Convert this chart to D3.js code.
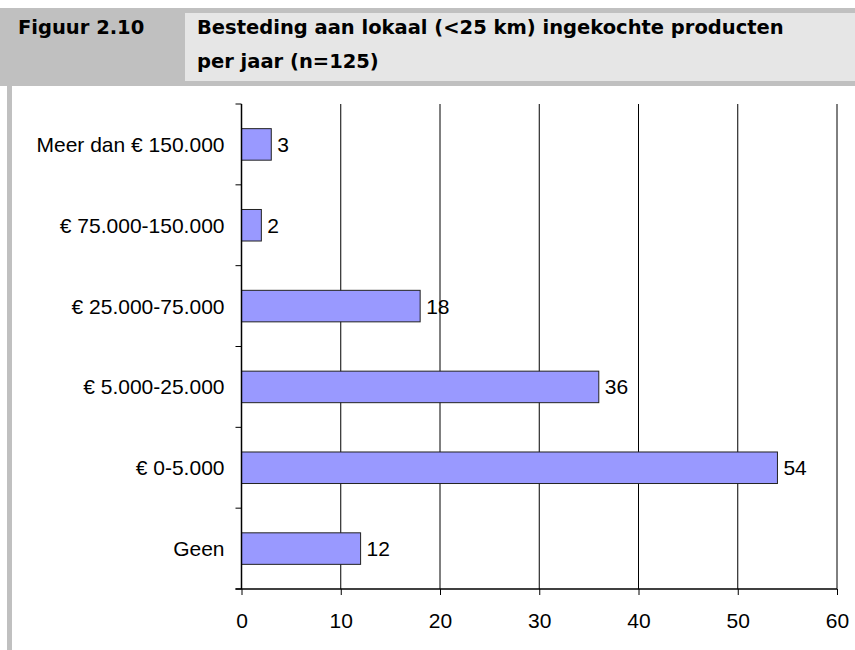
<!DOCTYPE html>
<html>
<head>
<meta charset="utf-8">
<script src="https://cdn.jsdelivr.net/npm/d3@7"></script>
<style>
  body { margin: 0; background: #fff; }
  svg { display: block; }
</style>
</head>
<body>
<div id="chart"></div>
<script>
// data, top to bottom as in the figure
var categories = ["Meer dan € 150.000", "€ 75.000-150.000", "€ 25.000-75.000", "€ 5.000-25.000", "€ 0-5.000", "Geen"];
var values = [3, 2, 18, 36, 54, 12];
var xTicks = [0, 10, 20, 30, 40, 50, 60];
var figLabel = "Figuur 2.10";
var titleLines = ["Besteding aan lokaal (<25 km) ingekochte producten", "per jaar (n=125)"];

var W = 855, H = 650;
var margin = {top: 104, right: 18, bottom: 61, left: 241.5},
    width = 837 - margin.left,
    height = 589 - margin.top;

var svg = d3.select("#chart").append("svg")
    .attr("width", W)
    .attr("height", H);

// header band
svg.append("rect").attr("x", 0).attr("y", 8).attr("width", W).attr("height", 78).attr("fill", "#c0c0c0");
svg.append("rect").attr("x", 185).attr("y", 13).attr("width", W - 185).attr("height", 68).attr("fill", "#e6e6e6");
// left border
svg.append("rect").attr("x", 7).attr("y", 86).attr("width", 5).attr("height", H - 86).attr("fill", "#c0c0c0");

var headFont = "'DejaVu Sans', sans-serif";
svg.append("text")
    .attr("x", 18).attr("y", 34)
    .style("font-family", headFont).style("font-weight", "bold").style("font-size", "19.5px")
    .text(figLabel);
svg.selectAll(".title").data(titleLines).enter().append("text")
    .attr("class", "title")
    .attr("x", 197)
    .attr("y", function(d, i) { return 34 + i * 34; })
    .style("font-family", headFont).style("font-weight", "bold").style("font-size", "19.5px")
    .text(function(d) { return d; });

var g = svg.append("g")
    .attr("transform", "translate(" + margin.left + "," + margin.top + ")");

// scales
var x = d3.scaleLinear().domain([0, 60]).range([0, width]);
var y = d3.scaleBand().domain(categories).range([0, height]).paddingInner(0.61).paddingOuter(0.305);
var yb = d3.scaleBand().domain(categories).range([0, height]);

var bodyFont = "'Liberation Sans', Arial, sans-serif";

// vertical gridlines
g.selectAll(".grid").data(xTicks.slice(1)).enter().append("line")
    .attr("x1", function(d) { return x(d); })
    .attr("x2", function(d) { return x(d); })
    .attr("y1", 0).attr("y2", height)
    .attr("stroke", "#000").attr("stroke-width", 1);

// bars
g.selectAll(".bar").data(values).enter().append("rect")
    .attr("x", x(0))
    .attr("y", function(d, i) { return y(categories[i]); })
    .attr("width", function(d) { return x(d) - x(0); })
    .attr("height", y.bandwidth())
    .attr("fill", "#9999ff")
    .attr("stroke", "#222")
    .attr("stroke-width", 1);

// value labels
g.selectAll(".val").data(values).enter().append("text")
    .attr("x", function(d) { return x(d) + 6; })
    .attr("y", function(d, i) { return y(categories[i]) + y.bandwidth() / 2; })
    .attr("dy", "0.36em")
    .style("font-family", bodyFont).style("font-size", "21px")
    .text(function(d) { return d; });

// y axis: line + ticks at band boundaries
var bounds = categories.map(function(c) { return yb(c); }).concat([height]);
g.append("line").attr("x1", 0).attr("x2", 0).attr("y1", 0).attr("y2", height)
    .attr("stroke", "#000").attr("stroke-width", 1.5);
g.selectAll(".ytick").data(bounds).enter().append("line")
    .attr("x1", -6).attr("x2", 0)
    .attr("y1", function(d) { return d; }).attr("y2", function(d) { return d; })
    .attr("stroke", "#000");
g.selectAll(".ylab").data(categories).enter().append("text")
    .attr("x", -17)
    .attr("y", function(d) { return yb(d) + yb.bandwidth() / 2; })
    .attr("dy", "0.36em")
    .attr("text-anchor", "end")
    .style("font-family", bodyFont).style("font-size", "21px")
    .text(function(d) { return d; });

// x axis
var xAxis = g.append("g")
    .attr("transform", "translate(0," + height + ")")
    .call(d3.axisBottom(x).tickValues(xTicks).tickSize(6).tickPadding(18).tickSizeOuter(0));
xAxis.select(".domain").attr("stroke", "#000").attr("stroke-width", 1.5).attr("d", "M-6,0H" + width);
xAxis.selectAll("text").style("font-family", bodyFont).style("font-size", "21px").attr("fill", "#000");
</script>
</body>
</html>
